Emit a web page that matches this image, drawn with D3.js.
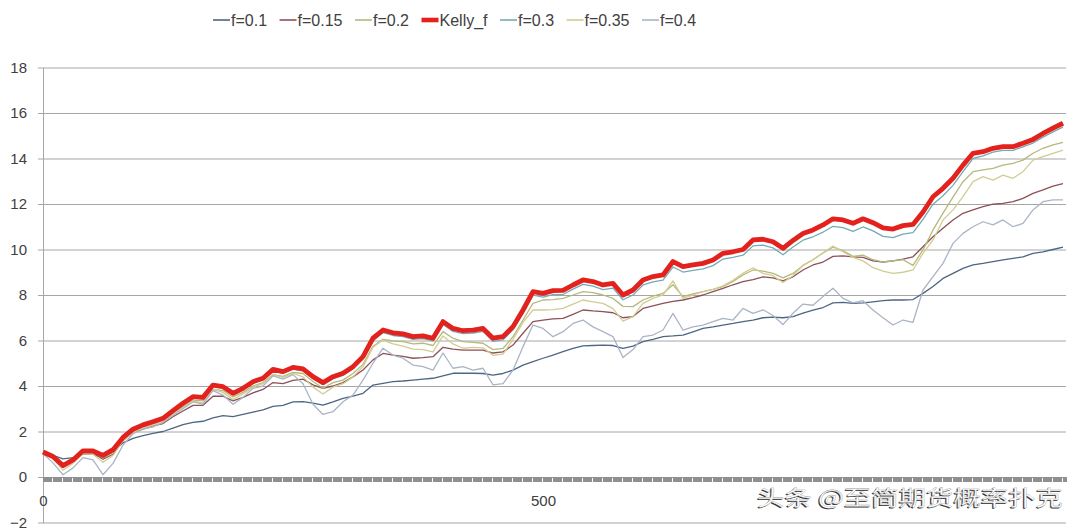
<!DOCTYPE html>
<html><head><meta charset="utf-8">
<script src="https://cdn.jsdelivr.net/npm/d3@7"></script>
<style>
body{margin:0;background:#fff;}
svg{display:block;font-family:"Liberation Sans",Arial,sans-serif;}
</style>
</head><body>
<svg id="c" width="1080" height="528"></svg>
<script>
const step = 10;
const seriesNames = ["f=0.1","f=0.15","f=0.2","Kelly_f","f=0.3","f=0.35","f=0.4"];
const yTickValues = [-2,0,2,4,6,8,10,12,14,16,18];
const xTickLabels = [0,500];

const f010 = [1.03,0.95,0.80,0.85,1.00,1.00,0.85,1.10,1.50,1.70,
 1.82,1.92,2.00,2.15,2.30,2.40,2.45,2.60,2.70,2.65,
 2.75,2.85,2.95,3.10,3.15,3.30,3.31,3.25,3.16,3.30,
 3.46,3.55,3.68,4.04,4.12,4.19,4.22,4.26,4.30,4.34,
 4.45,4.56,4.56,4.56,4.55,4.48,4.55,4.70,4.92,5.07,
 5.22,5.36,5.51,5.65,5.76,5.78,5.80,5.78,5.65,5.75,
 5.95,6.05,6.17,6.20,6.24,6.38,6.53,6.60,6.68,6.75,
 6.83,6.90,7.00,7.03,7.00,7.05,7.20,7.34,7.45,7.65,
 7.68,7.63,7.65,7.70,7.75,7.78,7.78,7.80,8.07,8.37,
 8.73,8.95,9.17,9.32,9.39,9.47,9.54,9.61,9.68,9.83,
 9.90,10.00,10.10];

const f015 = [1.05,0.85,0.58,0.72,1.05,1.05,0.78,1.00,1.60,1.95,
 2.10,2.25,2.35,2.65,2.90,3.15,3.15,3.55,3.55,3.35,
 3.50,3.70,3.85,4.15,4.10,4.25,4.30,4.05,3.90,4.00,
 4.15,4.40,4.70,5.15,5.43,5.36,5.30,5.22,5.25,5.29,
 5.70,5.62,5.58,5.58,5.58,5.45,5.50,5.80,6.32,6.83,
 6.90,6.95,6.97,7.15,7.34,7.30,7.27,7.22,7.00,7.05,
 7.41,7.52,7.63,7.72,7.78,7.88,8.00,8.15,8.29,8.45,
 8.59,8.68,8.80,8.75,8.62,8.80,9.10,9.32,9.45,9.70,
 9.72,9.68,9.65,9.50,9.45,9.50,9.58,9.68,10.12,10.56,
 10.93,11.30,11.59,11.74,11.88,11.99,12.03,12.10,12.25,12.47,
 12.62,12.79,12.90];

const f020 = [1.07,0.85,0.50,0.72,1.10,1.10,0.85,1.10,1.68,2.02,
 2.20,2.35,2.48,2.80,3.10,3.38,3.35,3.85,3.80,3.52,
 3.72,4.00,4.15,4.50,4.42,4.60,4.55,4.20,3.90,4.15,
 4.26,4.55,4.95,5.75,6.05,5.98,5.95,5.85,5.88,5.78,
 6.39,6.10,5.95,5.92,5.88,5.60,5.65,6.17,6.90,7.63,
 7.78,7.80,7.85,8.00,8.15,8.10,8.00,7.85,7.50,7.49,
 7.78,7.95,8.07,8.45,7.93,8.05,8.15,8.25,8.37,8.60,
 8.88,9.10,9.05,8.95,8.75,8.95,9.30,9.55,9.85,10.10,
 9.95,9.70,9.75,9.55,9.45,9.50,9.55,9.30,9.98,10.86,
 11.60,12.30,12.98,13.42,13.50,13.57,13.71,13.79,13.93,14.23,
 14.45,14.60,14.71];

const kelly = [1.10,0.90,0.50,0.75,1.15,1.15,0.95,1.20,1.74,2.10,
 2.29,2.43,2.58,2.92,3.24,3.53,3.50,4.04,3.97,3.68,
 3.90,4.19,4.34,4.73,4.63,4.82,4.75,4.41,4.15,4.41,
 4.56,4.85,5.29,6.10,6.46,6.34,6.29,6.17,6.20,6.10,
 6.83,6.53,6.43,6.46,6.53,6.10,6.17,6.61,7.34,8.15,
 8.07,8.19,8.20,8.44,8.66,8.59,8.44,8.51,8.00,8.22,
 8.66,8.81,8.88,9.47,9.25,9.32,9.39,9.54,9.83,9.90,
 10.00,10.42,10.45,10.34,10.05,10.40,10.70,10.86,11.08,11.35,
 11.30,11.15,11.35,11.18,10.95,10.90,11.05,11.10,11.65,12.32,
 12.69,13.13,13.71,14.23,14.30,14.45,14.52,14.52,14.67,14.84,
 15.10,15.33,15.55];

const f030 = [1.08,0.87,0.45,0.71,1.11,1.11,0.90,1.15,1.70,2.06,
 2.25,2.39,2.54,2.87,3.19,3.47,3.44,3.97,3.91,3.62,
 3.84,4.12,4.27,4.66,4.56,4.74,4.67,4.32,4.06,4.32,
 4.47,4.76,5.19,5.99,6.35,6.22,6.17,6.05,6.08,5.98,
 6.70,6.40,6.30,6.33,6.40,5.96,6.03,6.47,7.19,7.99,
 7.91,8.02,8.02,8.26,8.47,8.39,8.24,8.30,7.79,8.00,
 8.44,8.58,8.65,9.23,9.01,9.08,9.15,9.29,9.58,9.65,
 9.75,10.16,10.19,10.07,9.77,10.11,10.41,10.56,10.76,11.02,
 10.96,10.80,10.99,10.82,10.58,10.52,10.68,10.74,11.32,11.99,
 12.36,12.82,13.42,14.00,14.12,14.28,14.36,14.36,14.51,14.68,
 14.94,15.17,15.38];

const f035 = [1.06,0.80,0.30,0.60,1.02,1.00,0.65,0.95,1.60,1.95,
 2.15,2.28,2.45,2.75,3.05,3.35,3.25,3.85,3.72,3.40,
 3.65,3.95,4.10,4.50,4.38,4.55,4.40,3.95,3.65,3.95,
 4.10,4.40,4.85,5.70,6.02,5.85,5.75,5.62,5.60,5.50,
 6.20,5.85,5.66,5.70,5.68,5.35,5.40,6.05,6.80,7.34,
 7.34,7.36,7.41,7.60,7.78,7.70,7.63,7.40,6.85,7.05,
 7.63,7.85,8.00,8.62,7.85,8.00,8.15,8.25,8.40,8.65,
 8.95,9.20,8.95,8.85,8.55,8.85,9.30,9.55,9.85,10.15,
 9.90,9.65,9.50,9.20,9.05,8.95,9.00,9.10,9.83,10.42,
 11.30,11.74,12.32,12.98,13.20,13.05,13.27,13.13,13.42,13.93,
 14.08,14.23,14.37];

const f040 = [1.03,0.62,0.10,0.40,0.85,0.75,0.10,0.60,1.40,1.90,
 2.10,2.20,2.40,2.70,3.00,3.30,3.20,3.80,3.60,3.20,
 3.50,3.90,4.00,4.45,4.30,4.50,4.10,3.20,2.75,2.87,
 3.31,3.60,4.26,5.00,5.66,5.36,5.22,4.92,4.85,4.70,
 5.45,4.78,4.85,4.70,4.78,4.05,4.10,4.70,5.73,6.68,
 6.53,6.17,6.39,6.75,6.90,6.60,6.39,6.17,5.25,5.60,
 6.17,6.24,6.46,7.19,6.46,6.60,6.68,6.83,6.97,6.90,
 7.41,7.19,7.35,7.10,6.70,7.20,7.60,7.55,7.93,8.30,
 7.85,7.65,7.75,7.34,7.00,6.68,6.90,6.80,8.22,8.81,
 9.39,10.27,10.71,11.00,11.22,11.08,11.30,11.00,11.15,11.74,
 12.10,12.18,12.18];

// ---- styles ----
const seriesValues = [f010,f015,f020,kelly,f030,f035,f040];
const colors = ["#4c6682","#8c5058","#b4b97c","#e3211d","#74aab4","#d2cc92","#aab4c6"];
const widths = [1.3,1.3,1.3,4.8,1.3,1.3,1.3];

const svg = d3.select("#c");
const x = d3.scaleLinear().domain([0,1023]).range([43,1066]);
const y = d3.scaleLinear().domain([-2,18]).range([522.5,67.5]);

// gridlines
svg.append("g").attr("transform","translate(43,0)")
  .call(d3.axisLeft(y).tickValues(yTickValues).tickSize(-(1066-43)).tickFormat(""))
  .call(g=>g.select(".domain").remove())
  .call(g=>g.selectAll("line").attr("stroke","#a6a6a6").attr("stroke-width",1));

// y axis with labels
svg.append("g").attr("transform","translate(43,0)")
  .call(d3.axisLeft(y).tickValues(yTickValues).tickSize(5).tickPadding(11).tickSizeOuter(0))
  .call(g=>g.select(".domain").attr("stroke","#a6a6a6"))
  .call(g=>g.selectAll("line").attr("stroke","#a6a6a6"))
  .call(g=>g.selectAll("text").attr("font-size",15).attr("fill","#404040")
        .attr("font-family","'Liberation Sans',Arial,sans-serif"));

// series
const line = d3.line().x((d,k)=>x(k*step)).y(d=>y(d));
const order = [0,1,2,4,5,6,3];
svg.append("g").selectAll("path").data(order).join("path")
  .attr("d",s=>line(seriesValues[s]))
  .attr("fill","none")
  .attr("stroke",s=>colors[s])
  .attr("stroke-width",s=>widths[s])
  .attr("stroke-linejoin","round");

// x axis (dense category ticks at value 0)
const tickIdx = d3.range(0,1024).filter(i=>i%10!==9);
svg.append("g").attr("transform",`translate(0,${y(0)})`)
  .call(d3.axisBottom(x).tickValues(tickIdx).tickSize(5).tickFormat("").tickSizeOuter(0))
  .call(g=>g.select(".domain").attr("stroke","#8f8f8f"))
  .call(g=>g.selectAll("line").attr("stroke","#8f8f8f").attr("shape-rendering","crispEdges"));
svg.append("g").attr("transform",`translate(0,${y(0)})`)
  .call(d3.axisBottom(x).tickValues(xTickLabels).tickSize(0).tickPadding(18))
  .call(g=>g.select(".domain").remove())
  .call(g=>g.selectAll("text").attr("font-size",15).attr("fill","#404040")
        .attr("font-family","'Liberation Sans',Arial,sans-serif"));

// legend
const leg = svg.append("g");
let lx = 213;
seriesNames.forEach((name,s)=>{
  leg.append("line").attr("x1",lx).attr("x2",lx+17).attr("y1",20).attr("y2",20)
    .attr("stroke",colors[s]).attr("stroke-width",s===3?4.6:1.6);
  const t = leg.append("text").attr("x",lx+18).attr("y",25.5).attr("font-size",16)
    .attr("fill","#404040").text(name);
  lx += 18 + t.node().getComputedTextLength() + 12.5;
});

// watermark
const wm = "头条 @至简期货概率扑克";
svg.append("text").attr("x",755.8).attr("y",505.8).attr("font-size",21)
  .attr("font-family","'Noto Sans CJK SC',sans-serif").attr("fill","#333")
  .attr("textLength",306).attr("lengthAdjust","spacingAndGlyphs").text(wm);
svg.append("text").attr("x",757).attr("y",504.5).attr("font-size",21)
  .attr("font-family","'Noto Sans CJK SC',sans-serif").attr("fill","#ffffff")
  .attr("stroke","#999").attr("stroke-width",0.3)
  .attr("textLength",306).attr("lengthAdjust","spacingAndGlyphs").text(wm);
</script>
</body></html>
